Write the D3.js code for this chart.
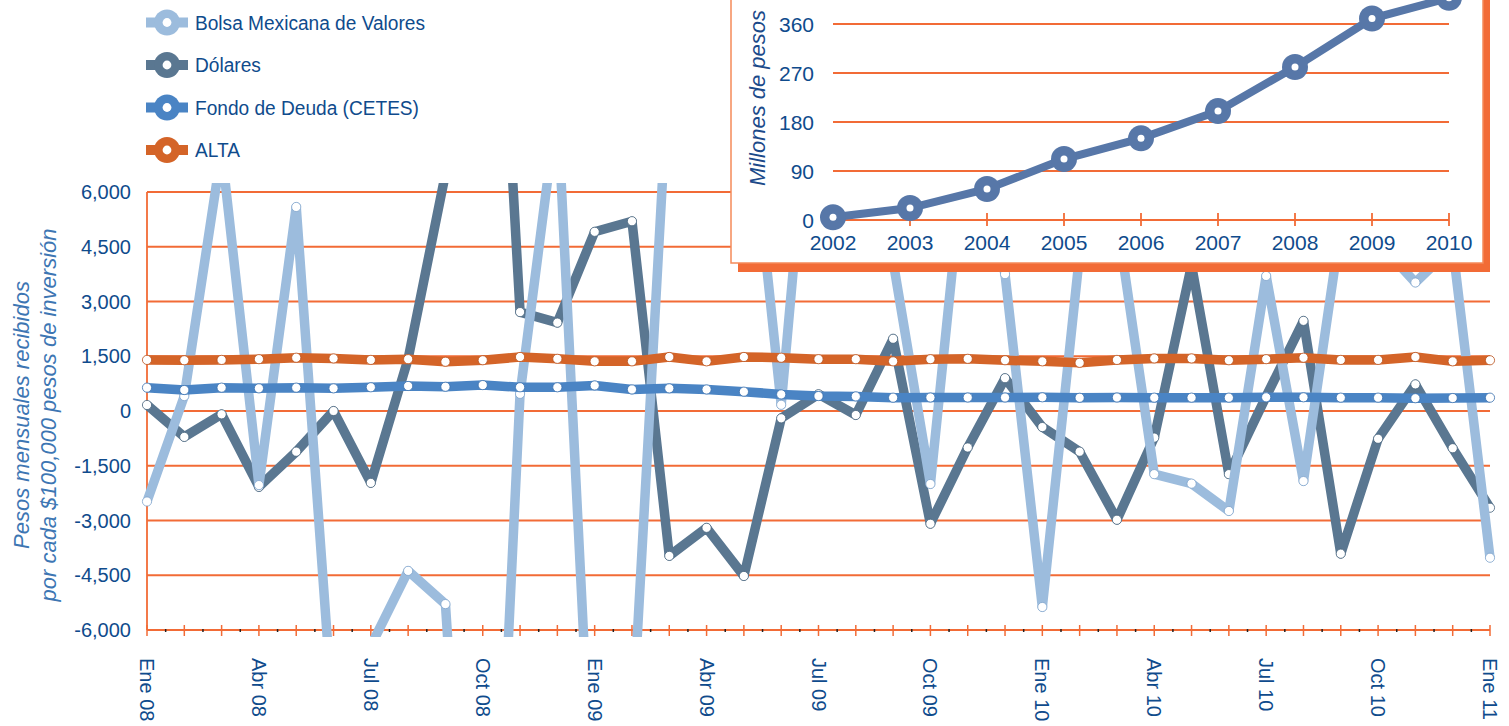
<!DOCTYPE html>
<html>
<head>
<meta charset="utf-8">
<script src="https://cdn.jsdelivr.net/npm/d3@7"></script>
<style>
	body { margin: 0; background: #fff; }
	svg { display: block; font-family: "Liberation Sans", Arial, sans-serif; }
	.ytick, .xtick, .itick { fill: #0f4b8c; }
	.ytitle { fill: #3d76b3; font-style: italic; font-size: 22px; }
	.ititle { fill: #1b4a8a; font-style: italic; font-size: 22px; }
	.legend-text { fill: #0f4b8c; font-size: 21px; }
</style>
</head>
<body>
<svg id="chart" width="1509" height="726"></svg>
<script>
// --- data ---
var months = ["Ene 08","Feb 08","Mar 08","Abr 08","May 08","Jun 08","Jul 08","Ago 08","Sep 08","Oct 08","Nov 08","Dic 08",
			  "Ene 09","Feb 09","Mar 09","Abr 09","May 09","Jun 09","Jul 09","Ago 09","Sep 09","Oct 09","Nov 09","Dic 09",
			  "Ene 10","Feb 10","Mar 10","Abr 10","May 10","Jun 10","Jul 10","Ago 10","Sep 10","Oct 10","Nov 10","Dic 10",
			  "Ene 11"];
var monthLabels = ["Ene 08","Abr 08","Jul 08","Oct 08","Ene 09","Abr 09","Jul 09","Oct 09","Ene 10","Abr 10","Jul 10","Oct 10","Ene 11"];

var bolsa   = [-2480, 410, 7150, -2030, 5590, -8600, -6440, -4380, -5290, -21000, 470, 8400, -12300,
			   -8800, 9700, 11000, 9900, 170, 11600, 9000, 4100, -2000, 8000, 3750, -5370, 4300,
			   5260, -1730, -1990, -2740, 3700, -1920, 5070, 4630, 3520, 4500, -4020];
var dolares = [165, -710, -90, -2080, -1115, 0, -1970, 1430, 6500, 21000, 2710, 2420, 4910,
			   5200, -3970, -3200, -4520, -200, 460, -110, 1980, -3090, -1000, 900, -440, -1115,
			   -2980, -730, 4000, -1730, 400, 2470, -3910, -760, 730, -1020, -2650];
var cetes   = [640, 575, 640, 620, 640, 620, 650, 685, 665, 710, 650, 650, 700,
			   590, 620, 590, 530, 455, 410, 400, 365, 370, 370, 370, 375, 363,
			   370, 366, 366, 366, 375, 375, 366, 366, 350, 355, 365];
var alta    = [1400, 1390, 1400, 1420, 1460, 1440, 1400, 1420, 1350, 1390, 1480, 1430, 1360,
			   1360, 1480, 1360, 1480, 1460, 1420, 1420, 1360, 1420, 1430, 1390, 1360, 1320,
			   1400, 1440, 1440, 1390, 1420, 1460, 1400, 1400, 1480, 1360, 1390];
var yTicks = [-6000, -4500, -3000, -1500, 0, 1500, 3000, 4500, 6000];

var years = ["2002","2003","2004","2005","2006","2007","2008","2009","2010"];
var millones = [5, 22, 57, 112, 150, 200, 281, 370, 408];
var insetTicks = [0, 90, 180, 270, 360];

var series = [
	{ name: "Bolsa Mexicana de Valores", color: "#9cbcdd", dot: "#7fa3cc", values: bolsa },
	{ name: "Dólares", color: "#5a7791", dot: "#46637c", values: dolares },
	{ name: "Fondo de Deuda (CETES)", color: "#4a84c4", dot: "#3a70ad", values: cetes },
	{ name: "ALTA", color: "#d46428", dot: "#b9521d", values: alta }
];
// drawing order seen in the picture
var drawOrder = [1, 0, 2, 3];

var orange = "#f26b36";
var fmt = d3.formatLocale({ decimal: ".", thousands: ",", grouping: [3], currency: ["$", ""], minus: "-" }).format(",");

var svg = d3.select("#chart");

// --- main chart ---
var x = d3.scalePoint().domain(months).range([147, 1490]);
var y = d3.scaleLinear().domain([-6000, 6000]).range([630, 192]);

var main = svg.append("g");

main.selectAll(".grid")
	.data(yTicks)
	.enter().append("line")
	.attr("class", "grid")
	.attr("x1", 147).attr("x2", 1490)
	.attr("y1", d => y(d)).attr("y2", d => y(d))
	.style("stroke", orange).style("stroke-width", 1.8);

main.append("line")
	.attr("x1", 147).attr("x2", 147)
	.attr("y1", y(6000)).attr("y2", y(-6000))
	.style("stroke", orange).style("stroke-width", 1.8);

// month ticks (orange) and half-month ticks (black)
main.selectAll(".mtick")
	.data(months)
	.enter().append("line")
	.attr("x1", d => x(d)).attr("x2", d => x(d))
	.attr("y1", y(-6000) - 5).attr("y2", y(-6000) + 6)
	.style("stroke", orange).style("stroke-width", 1.5);

main.selectAll(".htick")
	.data(months.slice(1))
	.enter().append("line")
	.attr("x1", d => x(d) - x.step() / 2).attr("x2", d => x(d) - x.step() / 2)
	.attr("y1", y(-6000) - 1).attr("y2", y(-6000) + 2)
	.style("stroke", "#222").style("stroke-width", 1.5);

main.selectAll(".ytick")
	.data(yTicks)
	.enter().append("text")
	.attr("class", "ytick")
	.attr("x", 131)
	.attr("y", d => y(d))
	.attr("dy", "0.36em")
	.attr("text-anchor", "end")
	.style("font-size", "20px")
	.text(d => fmt(d));

main.selectAll(".xtick")
	.data(monthLabels)
	.enter().append("text")
	.attr("class", "xtick")
	.attr("transform", d => "translate(" + x(d) + ",658) rotate(90)")
	.attr("dy", "0.35em")
	.style("font-size", "20px")
	.text(d => d);

var yt = main.append("text")
	.attr("class", "ytitle")
	.attr("transform", "translate(0,415) rotate(-90)")
	.attr("text-anchor", "middle");
yt.append("tspan").attr("x", 0).attr("y", 29).text("Pesos mensuales recibidos");
yt.append("tspan").attr("x", 0).attr("y", 56).text("por cada $100,000 pesos de inversión");

svg.append("clipPath").attr("id", "plot-clip")
	.append("rect")
	.attr("x", 140).attr("y", y(6000) - 9)
	.attr("width", 1365).attr("height", y(-6000) - y(6000) + 16);

var plot = main.append("g").attr("clip-path", "url(#plot-clip)");

var line = d3.line()
	.x((d, i) => x(months[i]))
	.y(d => y(d));

drawOrder.forEach(function(k) {
	var s = series[k];
	var g = plot.append("g");

	g.append("path")
	 .datum(s.values)
	 .attr("d", line)
	 .style("fill", "none")
	 .style("stroke", s.color)
	 .style("stroke-width", 9.5)
	 .style("stroke-linejoin", "round");

	g.selectAll("circle")
	 .data(s.values)
	 .enter().append("circle")
	 .attr("cx", (d, i) => x(months[i]))
	 .attr("cy", d => y(d))
	 .attr("r", 4.6)
	 .style("fill", "#fff")
	 .style("stroke", s.dot)
	 .style("stroke-width", 0.8);
});

// --- legend ---
var legend = svg.append("g");

var rows = legend.selectAll(".legend")
	.data(series)
	.enter().append("g")
	.attr("class", "legend")
	.attr("transform", (d, i) => "translate(0," + (22.5 + i * 42.5) + ")");

rows.append("line")
	.attr("x1", 146).attr("x2", 188)
	.style("stroke", d => d.color).style("stroke-width", 10);

rows.append("circle")
	.attr("cx", 167).attr("r", 13)
	.style("fill", d => d.color);

rows.append("circle")
	.attr("cx", 167).attr("r", 4.4)
	.style("fill", "#fff");

rows.append("text")
	.attr("class", "legend-text")
	.attr("transform", "translate(195,7) scale(0.91,1)")
	.text(d => d.name);

// --- inset ---
var inset = svg.append("g");

inset.append("rect")
	.attr("x", 738).attr("y", -20)
	.attr("width", 752).attr("height", 292)
	.style("fill", orange);

inset.append("rect")
	.attr("x", 731).attr("y", -20)
	.attr("width", 752).attr("height", 283)
	.style("fill", "#fff")
	.style("stroke", "#f58a5a").style("stroke-width", 1.5);

var ix = d3.scalePoint().domain(years).range([833, 1449]);
var iy = d3.scaleLinear().domain([0, 360]).range([220, 24]);

inset.selectAll(".igrid")
	.data(insetTicks)
	.enter().append("line")
	.attr("x1", 833).attr("x2", 1449)
	.attr("y1", d => iy(d)).attr("y2", d => iy(d))
	.style("stroke", orange).style("stroke-width", 2);

inset.selectAll(".iyt")
	.data(years)
	.enter().append("line")
	.attr("x1", d => ix(d)).attr("x2", d => ix(d))
	.attr("y1", iy(0) - 7).attr("y2", iy(0) + 6)
	.style("stroke", orange).style("stroke-width", 1.8);

inset.selectAll(".itick-y")
	.data(insetTicks)
	.enter().append("text")
	.attr("class", "itick")
	.attr("x", 814)
	.attr("y", d => iy(d))
	.attr("dy", "0.36em")
	.attr("text-anchor", "end")
	.style("font-size", "21px")
	.text(d => d);

inset.selectAll(".itick-x")
	.data(years)
	.enter().append("text")
	.attr("class", "itick")
	.attr("x", d => ix(d))
	.attr("y", 250)
	.attr("text-anchor", "middle")
	.style("font-size", "21px")
	.text(d => d);

inset.append("text")
	.attr("class", "ititle")
	.attr("transform", "translate(765,98) rotate(-90)")
	.attr("text-anchor", "middle")
	.text("Millones de pesos");

var iline = d3.line()
	.x((d, i) => ix(years[i]))
	.y(d => iy(d));

inset.append("path")
	.datum(millones)
	.attr("d", iline)
	.style("fill", "none")
	.style("stroke", "#5777a8")
	.style("stroke-width", 8);

inset.selectAll(".imark")
	.data(millones)
	.enter().append("circle")
	.attr("cx", (d, i) => ix(years[i]))
	.attr("cy", d => iy(d))
	.attr("r", 13)
	.style("fill", "#5777a8");

inset.selectAll(".idot")
	.data(millones)
	.enter().append("circle")
	.attr("cx", (d, i) => ix(years[i]))
	.attr("cy", d => iy(d))
	.attr("r", 3.5)
	.style("fill", "#fff");
</script>
</body>
</html>
